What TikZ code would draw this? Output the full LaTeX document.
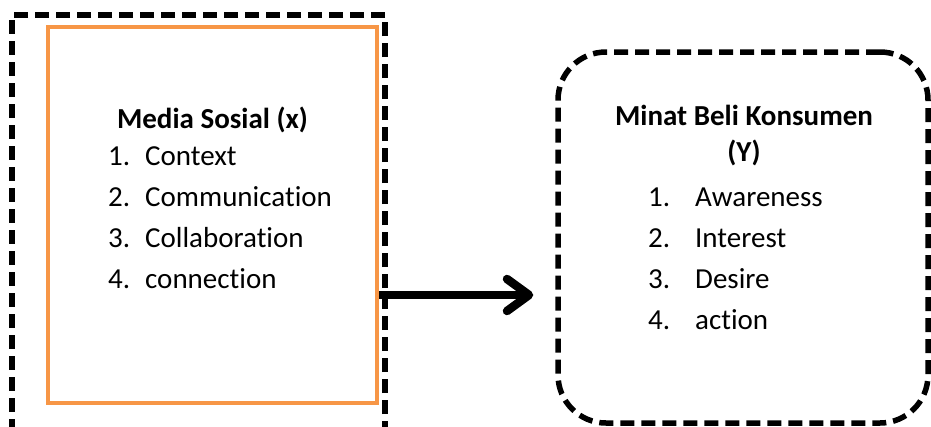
\documentclass[tikz,border=0pt]{standalone}
\usepackage{fontspec}
\setmainfont{Carlito}[Ligatures=NoCommon]
\usepackage{tikz}
\usetikzlibrary{positioning,arrows.meta}
\definecolor{accorange}{HTML}{F79646}

\begin{document}
\begin{tikzpicture}[x=1pt, y=-1pt,
  every node/.style={font=\fontsize{29}{34}\selectfont, inner sep=0pt},
  dashbox/.style={draw, line width=5.5pt, dash pattern=on 14pt off 7pt},
  title/.style={font=\fontsize{29}{34}\selectfont\bfseries, anchor=base},
  item/.style={anchor=base west}]
\useasboundingbox (0,0) rectangle (931,426);
\node[dashbox, minimum width=373pt, minimum height=425pt] (frame) at (198.5,227.5) {};
\node[draw=accorange, line width=4pt, minimum width=329pt, minimum height=376pt] (sosial) at (212.5,215) {};
\node[dashbox, rounded corners=48pt, minimum width=370pt, minimum height=371pt] (konsumen) at (743,237.5) {};
\node[title] (sosialtitle) at (212.5,128) {Media Sosial (x)};
\node[item] (ctx) at (108,165) {\makebox[37pt][l]{1.}Context};
\node[item] (comm) at (108,206) {\makebox[37pt][l]{2.}Communication};
\node[item] (coll) at (108,247) {\makebox[37pt][l]{3.}Collaboration};
\node[item] (conn) at (108,288) {\makebox[37pt][l]{4.}connection};
\node[title] (minattitle) at (744,125) {Minat Beli Konsumen};
\node[title] (minaty) at (744,161) {(Y)};
\node[item] (aw) at (648,206) {\makebox[47pt][l]{1.}Awareness};
\node[item] (intr) at (648,247) {\makebox[47pt][l]{2.}Interest};
\node[item] (des) at (648,288) {\makebox[47pt][l]{3.}Desire};
\node[item] (act) at (648,329) {\makebox[47pt][l]{4.}action};
\coordinate (ay) at (0,295);
\draw[line width=8.5pt, -{Straight Barb[length=22pt, width=32pt, round]}, shorten >=22pt] (sosial.east |- ay) -- (konsumen.west |- ay);
\end{tikzpicture}
\end{document}
